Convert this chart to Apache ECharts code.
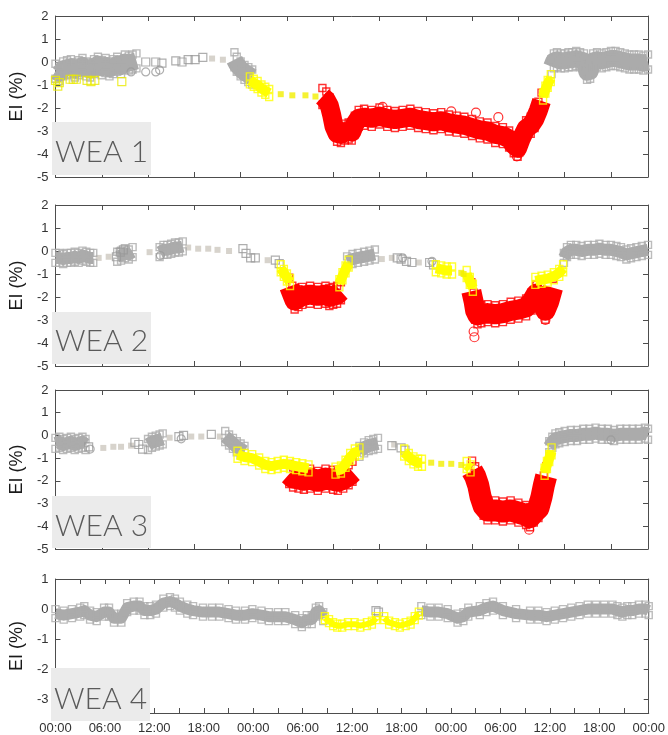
<!DOCTYPE html>
<html><head><meta charset="utf-8">
<script src="https://cdn.jsdelivr.net/npm/echarts@6/dist/echarts.min.js"></script>
<style>html,body{margin:0;padding:0;background:#fff}#c{width:668px;height:735px}</style>
</head><body><div id="c"></div><script>
// ---------------- DATA (hour since start, EI %) ----------------
// WEA 1
const p1GrayBand = [
  [[0,-0.4],[0.5,-0.5],[1,-0.3],[1.5,-0.25],[2,-0.2],[2.5,-0.35],[3,-0.25],[3.5,-0.15],[4,-0.3],[4.5,-0.35],[5,-0.2],[5.5,-0.1],[6,-0.25],[6.5,-0.15],[7,-0.3],[7.5,-0.2],[8,-0.1],[8.5,-0.2],[9,0.0],[9.5,-0.05],[10,0.0],[10.5,0.05]],
  [[23.2,0.1],[23.5,-0.1],[24,-0.3],[24.5,-0.45],[25,-0.55],[25.5,-0.65]],
  [[64.3,-0.2],[64.6,0.05],[65,0.1],[65.5,0.05],[66,0.05],[66.5,0.1],[67,0.1],[67.5,0.15],[68,0.1],[68.5,0.05],[68.9,-0.45],[69.3,-0.4],[69.7,0.05],[70.2,0.1],[70.8,0.05],[71.4,0.1],[72,0.15],[72.6,0.15],[73.2,0.1],[73.8,0.05],[74.4,0.0],[75,0.0],[75.6,0.0],[76.2,-0.05],[76.8,0.0]]
];
const p1GrayMarks = [[11.7,0],[13,0],[13.8,-0.05],[15.6,0.05],[16.4,0.0],[17.2,0.1],[18.1,0.1],[19.1,0.2]];
const p1GrayCircles = [[9.8,-0.43],[11.7,-0.43],[13,-0.43],[13.5,-0.35]];
const p1GapDots = [[20.3,0.15],[21.7,0.1]];
const p1YellowBand = [
  [[25.2,-0.8],[25.7,-0.9],[26.2,-1.0],[26.7,-1.15],[27.2,-1.25],[27.7,-1.35]],
  [[63.2,-1.5],[63.5,-1.2],[63.8,-0.95],[64.2,-0.7]]
];
const p1YellowMarks = [[0,-0.8],[0.3,-1.05],[0.5,-0.9],[1.9,-0.75],[2.3,-0.75],[2.7,-0.75],[4.1,-0.8],[4.6,-0.85],[5.1,-0.8],[8.6,-0.85]];
const p1YellowDots = [[29.2,-1.4],[30.7,-1.45],[32.4,-1.45],[33.7,-1.5]];
const p1RedBand = [
  [[34.6,-1.5],[35.1,-1.65],[35.5,-1.9],[35.8,-2.3],[36.1,-2.8],[36.5,-3.1],[37,-3.15],[37.5,-3.05],[38,-3.0],[38.4,-3.05],[38.8,-2.7],[39.3,-2.45],[40,-2.4],[41,-2.45],[42,-2.35],[43,-2.45],[44,-2.5],[45,-2.45],[46,-2.4],[47,-2.5],[48,-2.55],[49,-2.6],[50,-2.55],[51,-2.65],[52,-2.7],[53,-2.75],[54,-2.85],[55,-2.95],[56,-3.0],[57,-3.15],[58,-3.2],[58.8,-3.35],[59.4,-3.6],[59.9,-3.75],[60.4,-3.3],[61,-2.9],[61.6,-2.75],[62.1,-2.5],[62.6,-2.1],[63,-1.7]]
];
const p1RedMarks = [[42.4,-1.95],[51.3,-2.15],[54.5,-2.2],[57.4,-2.4],[59.8,-4.1],[60.2,-3.95]];

// WEA 2
const p2GrayBand = [
  [[0,-0.3],[0.5,-0.3],[1,-0.35],[1.5,-0.3],[2,-0.3],[2.5,-0.25],[3,-0.3],[3.5,-0.2],[4,-0.25],[4.5,-0.3],[4.9,-0.3]],
  [[8,-0.25],[8.5,-0.2],[9,-0.1],[9.5,-0.15],[10,-0.05]],
  [[13.5,-0.05],[14,0.05],[14.5,0.05],[15,0.1],[15.5,0.15],[16,0.15],[16.5,0.2]],
  [[37.8,-0.45],[38.5,-0.35],[39.2,-0.3],[40,-0.25],[40.7,-0.2],[41.4,-0.15]],
  [[65.9,-0.3],[66.3,-0.05],[66.8,0.05],[67.5,0.05],[68.2,0.0],[69,0.05],[69.8,0.05],[70.5,0.1],[71.3,0.05],[72,0.05],[72.7,0.0],[73.3,-0.05],[74,-0.15],[74.6,-0.1],[75.3,-0.05],[76,0.0],[76.8,0.05]]
];
const p2GrayMarks = [[7.9,-0.25],[8.4,-0.05],[8.8,0.05],[24.3,0.1],[24.7,-0.1],[25.3,-0.3],[25.9,-0.3],[28.5,-0.4],[29,-0.55],[44.3,-0.3],[44.8,-0.35],[45.5,-0.45],[46.2,-0.5],[48.5,-0.5],[49,-0.6]];
const p2GrayCircles = [[13.6,-0.2],[45,-0.3],[48.8,-0.45]];
const p2GapDots = [[5.6,-0.3],[6.9,-0.25],[12.2,-0.05],[17.2,0.15],[18.5,0.1],[19.8,0.1],[21,0.05],[22.5,0.0],[27.5,-0.4],[42.3,-0.35],[43.6,-0.3],[47.1,-0.5]];
const p2YellowBand = [
  [[29.2,-0.75],[29.6,-0.95],[30,-1.15],[30.4,-1.35]],
  [[36.8,-1.4],[37.2,-1.1],[37.6,-0.8],[38,-0.55]],
  [[49.3,-0.75],[50,-0.8],[50.7,-0.85],[51.4,-0.85]],
  [[53.3,-1.0],[53.7,-1.3],[54.1,-1.6]],
  [[62.2,-1.3],[63,-1.25],[63.8,-1.2],[64.6,-1.1],[65.3,-0.95],[65.8,-0.75]]
];
const p2YellowMarks = [];
const p2YellowDots = [[52.6,-0.95],[52.9,-1.0]];
const p2RedBand = [
  [[30.3,-1.55],[30.7,-1.9],[31,-2.15],[31.5,-2.05],[32,-1.95],[33,-1.9],[34,-1.95],[35,-1.9],[35.5,-2.0],[36,-1.95],[36.5,-1.9],[37,-1.75]],
  [[53.9,-1.75],[54.2,-2.2],[54.4,-2.6],[54.7,-2.8],[55.2,-2.75],[56,-2.7],[57,-2.75],[58,-2.7],[59,-2.6],[60,-2.55],[61,-2.45],[61.7,-2.2],[62.3,-1.85],[62.9,-2.1],[63.5,-2.6],[64,-2.2],[64.5,-1.6]]
];
const p2RedMarks = [[54.2,-3.5],[54.3,-3.75],[63.5,-3.0],[62.4,-1.5]];

// WEA 3
const p3GrayBand = [
  [[0,-0.35],[0.5,-0.3],[1,-0.4],[1.5,-0.35],[2,-0.3],[2.5,-0.4],[3,-0.35],[3.5,-0.3],[3.9,-0.4]],
  [[12,-0.4],[12.5,-0.3],[13,-0.25],[13.5,-0.2],[13.9,-0.15]],
  [[22,-0.05],[22.5,-0.2],[23,-0.35],[23.5,-0.5],[24,-0.6],[24.5,-0.7]],
  [[39.4,-0.7],[40,-0.55],[40.6,-0.45],[41.2,-0.4],[41.8,-0.35]],
  [[64,-0.5],[64.4,-0.3],[64.8,-0.15],[65.3,-0.1],[66,-0.05],[66.8,0.0],[67.6,0.0],[68.4,0.05],[69.2,0.05],[70,0.1],[70.8,0.05],[71.6,0.05],[72.4,0.0],[73.2,0.05],[74,0.05],[74.8,0.05],[75.6,0.05],[76.4,0.1],[76.8,0.05]]
];
const p3GrayMarks = [[4.3,-0.5],[10.3,-0.3],[10.8,-0.4],[11.3,-0.6],[16,-0.05],[16.6,0.0],[20.2,0.05],[43.6,-0.45],[44.8,-0.55],[45.3,-0.65]];
const p3GrayCircles = [[4.5,-0.6],[16.3,-0.15],[72,-0.2]];
const p3GapDots = [[6.2,-0.55],[7.5,-0.5],[8.5,-0.5],[9.8,-0.45],[14.8,-0.1],[17.6,-0.05],[18.9,-0.05],[21.3,-0.05],[43.9,-0.4]];
const p3YellowBand = [
  [[23.6,-0.85],[24.5,-0.95],[25.5,-1.0],[26.4,-1.15],[27.2,-1.3],[28,-1.35],[28.8,-1.3],[29.6,-1.25],[30.4,-1.3],[31.2,-1.35],[32,-1.4],[32.8,-1.45]],
  [[36.3,-1.55],[37,-1.5],[37.6,-1.25],[38.2,-0.95],[38.8,-0.75],[39.4,-0.7]],
  [[45.2,-0.75],[45.8,-0.95],[46.4,-1.1],[47,-1.2],[47.5,-1.2]],
  [[53.3,-1.3],[53.8,-1.45]],
  [[63.4,-1.6],[63.7,-1.3],[64,-1.0],[64.3,-0.7]]
];
const p3YellowMarks = [];
const p3YellowDots = [[48.7,-1.2],[50,-1.25],[51.3,-1.25],[52.6,-1.3]];
const p3RedBand = [
  [[30.3,-1.7],[30.8,-1.85],[31.5,-1.9],[32.2,-1.95],[33,-1.9],[34,-2.0],[35,-1.9],[36,-1.95],[36.6,-2.0],[37.3,-1.9],[38,-1.75],[38.5,-1.6]],
  [[54,-1.55],[54.4,-1.8],[54.8,-2.2],[55.1,-2.7],[55.5,-3.1],[56,-3.3],[57,-3.3],[58,-3.35],[59,-3.3],[60,-3.4],[61,-3.5],[61.5,-3.6],[62,-3.4],[62.6,-3.2],[63,-2.7],[63.3,-2.2],[63.6,-1.8]]
];
const p3RedMarks = [[54.4,-1.5],[55,-1.9],[61.4,-4.15]];

// WEA 4
const p4GrayBand = [
  [[0,-0.15],[1,-0.2],[2,-0.15],[3,-0.1],[3.5,-0.05],[4.2,-0.2],[5,-0.25],[5.9,-0.1],[6.5,-0.1],[7.1,-0.3],[8,-0.3],[8.7,0.05],[9.5,0.1],[10.2,0.1],[10.8,-0.05],[11.5,-0.05],[12.2,0.0],[13.1,0.2],[13.9,0.25],[14.5,0.2],[15.1,0.1],[16,0.0],[16.7,-0.05],[17.9,-0.1],[19,-0.1],[19.9,-0.1],[21,-0.15],[21.9,-0.2],[23,-0.2],[23.9,-0.15],[25,-0.2],[25.9,-0.25],[27,-0.25],[27.9,-0.25],[29.1,-0.35],[29.9,-0.45],[30.5,-0.35],[31.1,-0.35],[31.6,-0.1],[32,-0.05],[32.5,-0.25]],
  [[44.4,-0.05],[45.5,-0.1],[46.5,-0.1],[47.6,-0.15],[48.8,-0.3],[49.5,-0.25],[50.1,-0.1],[51.5,-0.05],[52.3,0.05],[53.1,0.1],[54.3,-0.05],[55.9,-0.15],[57.6,-0.2],[58.6,-0.2],[59.6,-0.25],[60.6,-0.2],[61.6,-0.15],[62.6,-0.1],[63.6,-0.05],[64.6,0.0],[65.6,0.0],[66.6,0.0],[67.6,0.0],[68.2,-0.05],[68.8,-0.1],[69.4,-0.05],[70,-0.05],[70.8,0.0],[71.6,0.0],[72,-0.05]]
];
const p4GrayMarks = [[38.9,-0.05],[39.2,-0.1]];
const p4GrayCircles = [];
const p4GapDots = [];
const p4YellowBand = [
  [[32.7,-0.3],[33.2,-0.4],[33.7,-0.5],[34.2,-0.55],[34.8,-0.55],[35.5,-0.5],[36.3,-0.5],[37,-0.55],[37.8,-0.5],[38.4,-0.45],[38.9,-0.3]],
  [[39.9,-0.3],[40.5,-0.45],[41.2,-0.5],[41.8,-0.55],[42.5,-0.5],[43.1,-0.45],[43.6,-0.3],[44.1,-0.15]]
];
const p4YellowMarks = [];
const p4YellowDots = [];
const p4RedBand = [];
const p4RedMarks = [];

const panelNames = ['WEA 1','WEA 2','WEA 3','WEA 4'];
const yTicksTop = [2,1,0,-1,-2,-3,-4,-5];
const yTicksBottom = [1,0,-1,-2,-3];

// ---------------- LAYOUT / STYLE ----------------
const GRAY='#ababab', YEL='#ffff00', RED='#ff0000', BEIGE='#cdc8bf', AX='#4d4d4d';
const FONT='Liberation Sans, Arial, sans-serif';
const panels = [
  {top:16, height:161, left:52, right:20, ymin:-5, ymax:2, yt:yTicksTop, xmax:76.8, xint:6, labels:false, box:[122,175], capMid:150,
   gb:p1GrayBand, gm:p1GrayMarks, gc:p1GrayCircles, gd:p1GapDots, yb:p1YellowBand, ym:p1YellowMarks, yd:p1YellowDots, rb:p1RedBand, rm:p1RedMarks,
   w:{g:17,y:10,r:19}},
  {top:205, height:161, left:52, right:20, ymin:-5, ymax:2, yt:yTicksTop, xmax:76.8, xint:6, labels:false, box:[312,364], capMid:339,
   gb:p2GrayBand, gm:p2GrayMarks, gc:p2GrayCircles, gd:p2GapDots, yb:p2YellowBand, ym:p2YellowMarks, yd:p2YellowDots, rb:p2RedBand, rm:p2RedMarks,
   w:{g:12,y:10,r:20}},
  {top:390, height:159, left:52, right:20, ymin:-5, ymax:2, yt:yTicksTop, xmax:76.8, xint:6, labels:false, box:[496,548], capMid:524,
   gb:p3GrayBand, gm:p3GrayMarks, gc:p3GrayCircles, gd:p3GapDots, yb:p3YellowBand, ym:p3YellowMarks, yd:p3YellowDots, rb:p3RedBand, rm:p3RedMarks,
   w:{g:13,y:10,r:22}},
  {top:579, height:142, left:51, right:18, ymin:-3.45, ymax:1, yt:yTicksBottom, xmax:72, xint:3, labels:true, box:[668,721], capMid:697,
   gb:p4GrayBand, gm:p4GrayMarks, gc:p4GrayCircles, gd:p4GapDots, yb:p4YellowBand, ym:p4YellowMarks, yd:p4YellowDots, rb:p4RedBand, rm:p4RedMarks,
   w:{g:11,y:6,r:10}}
];

function hhmm(v){ const h=Math.round(((v%24)+24)%24); return (h<10?'0':'')+h+':00'; }

const grid=[], xAxis=[], yAxis=[], series=[], graphic=[];
panels.forEach((p,i)=>{
  grid.push({left:p.left,right:p.right,top:p.top,height:p.height,containLabel:false});
  const xBase = {type:'value', gridIndex:i, min:0, max:p.xmax, interval:p.xint,
    axisLine:{show:true,onZero:false,lineStyle:{color:AX,width:1}},
    axisTick:{show:true,inside:true,length:5,lineStyle:{color:AX}},
    splitLine:{show:false}};
  xAxis.push(Object.assign({}, xBase, {position:'bottom',
    axisLabel:{show:p.labels, margin:9, fontSize:13, color:'#333', fontFamily:FONT,
      formatter:(v)=> (Math.round(v)%6===0 ? hhmm(v) : ''), showMaxLabel:true, showMinLabel:true}}));
  xAxis.push(Object.assign({}, xBase, {position:'top', axisLabel:{show:false}}));
  const yBase = {type:'value', gridIndex:i, min:p.ymin, max:p.ymax,
    axisLine:{show:true,onZero:false,lineStyle:{color:AX,width:1}},
    axisTick:{show:true,inside:true,length:5,lineStyle:{color:AX},customValues:p.yt},
    splitLine:{show:false}};
  yAxis.push(Object.assign({}, yBase, {position:'left', name:'EI (%)', nameLocation:'middle', nameGap:24,
    nameTextStyle:{fontSize:18,color:'#1a1a1a',fontFamily:FONT},
    axisLabel:{show:true, customValues:p.yt, margin:7, fontSize:13, color:'#333', fontFamily:FONT}}));
  yAxis.push(Object.assign({}, yBase, {position:'right', axisLabel:{show:false}}));
  const xi=2*i, yi=2*i;
  const band=(segs,color,w,z)=>{
    segs.forEach(seg=>{
      series.push({type:'line', xAxisIndex:xi, yAxisIndex:yi, data:seg, showSymbol:false, symbol:'none', z:z,
        lineStyle:{color:color,width:w,cap:'butt',join:'round'}, silent:true});
      [-1,1].forEach(sgn=>{
        series.push({type:'scatter', xAxisIndex:xi, yAxisIndex:yi, data:seg, symbol:'rect', symbolSize:7,
          symbolOffset:[0, sgn*(w/2-1)], z:z,
          itemStyle:{color:'rgba(0,0,0,0)',borderColor:color,borderWidth:1.4}, silent:true});
      });
    });
  };
  const marks=(data,color,sym,size,z)=>{
    if(!data.length) return;
    series.push({type:'scatter', xAxisIndex:xi, yAxisIndex:yi, data:data, symbol:sym, symbolSize:size, z:z,
      itemStyle:{color:'rgba(0,0,0,0)',borderColor:color,borderWidth:1.2}, silent:true});
  };
  const dots=(data,color,z)=>{
    if(!data.length) return;
    series.push({type:'scatter', xAxisIndex:xi, yAxisIndex:yi, data:data, symbol:'rect', symbolSize:6, z:z,
      itemStyle:{color:color}, silent:true});
  };
  dots(p.gd, BEIGE, 2);
  band(p.gb, GRAY, p.w.g, 3);
  marks(p.gm, '#9a9a9a', 'rect', 8, 3);
  marks(p.gc, '#9a9a9a', 'circle', 8, 3);
  band(p.rb, RED, p.w.r, 4);
  marks(p.rm, RED, 'circle', 9, 4);
  band(p.yb, YEL, p.w.y, 5);
  marks(p.ym, '#eaea00', 'rect', 8, 5);
  dots(p.yd, '#f2ef00', 5);

  graphic.push({type:'rect', shape:{x:p.left, y:p.box[0], width:99, height:p.box[1]-p.box[0]}, style:{fill:'#ebebeb'}, z:10});
  graphic.push({type:'text', x:p.left+3, y:p.capMid+2, z:11,
    style:{text:panelNames[i], fill:'#5a5a5a', font:'300 30px Lato, "Noto Sans", sans-serif', textVerticalAlign:'middle', textAlign:'left'}});
});

const chart = echarts.init(document.getElementById('c'), null, {renderer:'canvas'});
chart.setOption({animation:false, backgroundColor:'#fff', grid, xAxis, yAxis, series, graphic});
</script></body></html>
